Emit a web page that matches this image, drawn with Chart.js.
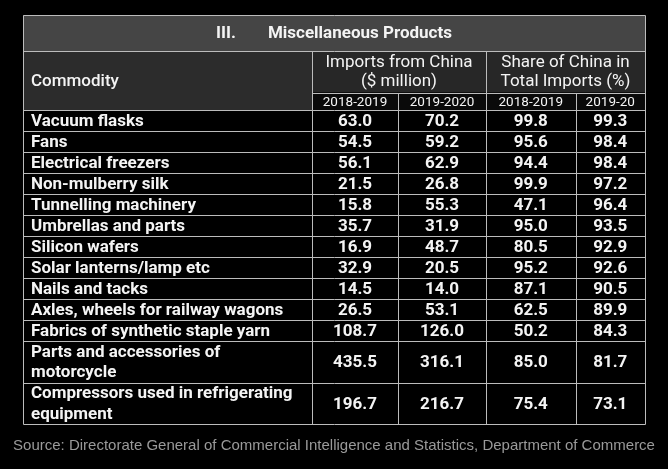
<!DOCTYPE html>
<html>
<head>
<meta charset="utf-8">
<script src="https://cdn.jsdelivr.net/npm/chart.js@4.4.1/dist/chart.umd.min.js"></script>
<style>
  html, body { margin: 0; padding: 0; background: #000; }
  #wrap { width: 668px; height: 469px; }
</style>
</head>
<body>
<div id="wrap"><canvas id="tabla" width="668" height="469"></canvas></div>
<script>
// datos de la tabla
const titulo = ['III.', 'Miscellaneous Products'];
const encabezados = ['Commodity', ['Imports from China', '($ million)'], ['Share of China in', 'Total Imports (%)']];
const periodos = ['2018-2019', '2019-2020', '2018-2019', '2019-20'];
const categorias = [
    'Vacuum flasks',
    'Fans',
    'Electrical freezers',
    'Non-mulberry silk',
    'Tunnelling machinery',
    'Umbrellas and parts',
    'Silicon wafers',
    'Solar lanterns/lamp etc',
    'Nails and tacks',
    'Axles, wheels for railway wagons',
    'Fabrics of synthetic staple yarn',
    ['Parts and accessories of', 'motorcycle'],
    ['Compressors used in refrigerating', 'equipment']
];
const importaciones1819 = [63.0, 54.5, 56.1, 21.5, 15.8, 35.7, 16.9, 32.9, 14.5, 26.5, 108.7, 435.5, 196.7];
const importaciones1920 = [70.2, 59.2, 62.9, 26.8, 55.3, 31.9, 48.7, 20.5, 14.0, 53.1, 126.0, 316.1, 216.7];
const participacion1819 = [99.8, 95.6, 94.4, 99.9, 47.1, 95.0, 80.5, 95.2, 87.1, 62.5, 50.2, 85.0, 75.4];
const participacion1920 = [99.3, 98.4, 98.4, 97.2, 96.4, 93.5, 92.9, 92.6, 90.5, 89.9, 84.3, 81.7, 73.1];
const fuente = 'Source: Directorate General of Commercial Intelligence and Statistics, Department of Commerce';

// medidas de la tabla (unidades de las escalas)
const anchos = [289, 86, 88, 89.5, 69.5];
const altoTitulo = 36, altoEncabezado = 41.5, altoPeriodo = 17.5;
const altoFila = 21.03, altoLinea = 20.3;

const bordesX = [0];
anchos.forEach(a => bordesX.push(bordesX[bordesX.length - 1] + a));
const bordesY = [0, altoTitulo, altoTitulo + altoEncabezado, altoTitulo + altoEncabezado + altoPeriodo];
categorias.forEach(c => {
    const lineas = Array.isArray(c) ? c.length : 1;
    bordesY.push(bordesY[bordesY.length - 1] + altoFila + (lineas - 1) * altoLinea);
});
const inicioFilas = 3;
const centroCol = i => (bordesX[i] + bordesX[i + 1]) / 2;
const centroFila = i => (bordesY[inicioFilas + i] + bordesY[inicioFilas + i + 1]) / 2;

const columnas = [importaciones1819, importaciones1920, participacion1819, participacion1920];
const datasets = columnas.map((col, c) => ({
    label: periodos[c],
    data: col.map((v, i) => ({ x: centroCol(c + 1), y: centroFila(i), v: v })),
    pointRadius: 0,
    showLine: false
}));

const tablaPlugin = {
    id: 'tabla',
    beforeDraw(chart) {
        const ctx = chart.ctx;
        ctx.save();
        ctx.fillStyle = '#000';
        ctx.fillRect(0, 0, chart.width, chart.height);
        ctx.restore();
    },
    beforeDatasetsDraw(chart) {
        const ctx = chart.ctx;
        const sx = chart.scales.x, sy = chart.scales.y;
        const px = v => sx.getPixelForValue(v);
        const py = v => sy.getPixelForValue(v);
        const caja = (x1, y1, x2, y2, color) => {
            ctx.fillStyle = color;
            ctx.fillRect(px(x1), py(y1), px(x2) - px(x1), py(y2) - py(y1));
        };
        ctx.save();
        caja(bordesX[0], bordesY[0], bordesX[5], bordesY[1], '#454545');
        caja(bordesX[0], bordesY[1], bordesX[1], bordesY[3], '#2c2c2c');
        caja(bordesX[1], bordesY[1], bordesX[5], bordesY[2], '#272727');
        caja(bordesX[1], bordesY[2], bordesX[5], bordesY[3], '#0a0a0a');

        ctx.strokeStyle = '#bcbcbc';
        ctx.lineWidth = 1;
        const linea = (x1, y1, x2, y2) => {
            const a = Math.round(px(x1)) + 0.5, b = Math.round(py(y1)) + 0.5;
            const c = Math.round(px(x2)) + 0.5, d = Math.round(py(y2)) + 0.5;
            ctx.beginPath();
            ctx.moveTo(a, b);
            ctx.lineTo(c, d);
            ctx.stroke();
        };
        const fin = bordesY[bordesY.length - 1];
        // horizontales
        bordesY.forEach((y, i) => {
            if (i === 2) linea(bordesX[1], y, bordesX[5], y);
            else linea(bordesX[0], y, bordesX[5], y);
        });
        // verticales
        linea(bordesX[0], 0, bordesX[0], fin);
        linea(bordesX[5], 0, bordesX[5], fin);
        linea(bordesX[1], bordesY[1], bordesX[1], fin);
        linea(bordesX[3], bordesY[1], bordesX[3], fin);
        linea(bordesX[2], bordesY[2], bordesX[2], fin);
        linea(bordesX[4], bordesY[2], bordesX[4], fin);
        ctx.restore();
    },
    afterDatasetsDraw(chart) {
        const ctx = chart.ctx;
        const sx = chart.scales.x, sy = chart.scales.y;
        const px = v => sx.getPixelForValue(v);
        const py = v => sy.getPixelForValue(v);
        ctx.save();
        ctx.textBaseline = 'middle';
        ctx.fillStyle = '#f4f4f4';

        // titulo
        ctx.font = 'bold 17px Roboto';
        const hueco = 32;
        const w1 = ctx.measureText(titulo[0]).width, w2 = ctx.measureText(titulo[1]).width;
        let xt = px(bordesX[5] / 2) - (w1 + hueco + w2) / 2;
        const yt = py(bordesY[1] / 2) + 1;
        ctx.textAlign = 'left';
        ctx.fillText(titulo[0], xt, yt);
        ctx.fillText(titulo[1], xt + w1 + hueco, yt);

        // encabezados
        ctx.font = '500 17px Roboto';
        ctx.fillText(encabezados[0], px(8), py((bordesY[1] + bordesY[3]) / 2) + 1);
        ctx.font = '17px Roboto';
        ctx.textAlign = 'center';
        [1, 2].forEach(k => {
            const xc = px((bordesX[2 * k - 1] + bordesX[2 * k + 1]) / 2);
            const yc = py((bordesY[1] + bordesY[2]) / 2);
            ctx.fillText(encabezados[k][0], xc, yc - 9.5);
            ctx.fillText(encabezados[k][1], xc, yc + 9.5);
        });
        ctx.font = '13.5px Roboto';
        periodos.forEach((p, i) => {
            ctx.fillText(p, px(centroCol(i + 1)), py((bordesY[2] + bordesY[3]) / 2) + 1);
        });

        // valores
        ctx.font = 'bold 17px Roboto';
        chart.data.datasets.forEach((ds, d) => {
            const meta = chart.getDatasetMeta(d);
            meta.data.forEach((el, i) => {
                ctx.fillText(ds.data[i].v.toFixed(1), el.x, el.y + 1);
            });
        });

        // categorias
        ctx.textAlign = 'left';
        categorias.forEach((c, i) => {
            const lineas = Array.isArray(c) ? c : [c];
            const yc = py(centroFila(i)) + 1;
            lineas.forEach((l, j) => {
                ctx.fillText(l, px(8), yc + (j - (lineas.length - 1) / 2) * altoLinea);
            });
        });

        // fuente
        ctx.font = '15px "Liberation Sans"';
        ctx.fillStyle = '#9a9a9a';
        ctx.textAlign = 'center';
        ctx.fillText(fuente, chart.width / 2, 446);
        ctx.restore();
    }
};

new Chart(document.querySelector('#tabla'), {
    type: 'scatter',
    data: { datasets: datasets },
    options: {
        responsive: false,
        animation: false,
        layout: { padding: { left: 23, right: 23, top: 15, bottom: 45 } },
        scales: {
            x: { type: 'linear', min: 0, max: bordesX[5], display: false },
            y: { type: 'linear', min: 0, max: bordesY[bordesY.length - 1], reverse: true, display: false }
        },
        plugins: { legend: { display: false }, tooltip: { enabled: false } }
    },
    plugins: [tablaPlugin]
});
</script>
</body>
</html>
